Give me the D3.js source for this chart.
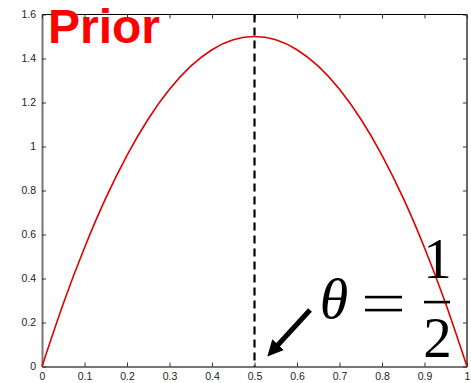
<!DOCTYPE html>
<html>
<head>
<meta charset="utf-8">
<script src="https://cdn.jsdelivr.net/npm/d3@7"></script>
<style>
  body { margin: 0; background: #fff; }
  svg { display: block; }
</style>
</head>
<body>
<svg></svg>
<script>
// prior density
const theta = [0, 0.05, 0.1, 0.15, 0.2, 0.25, 0.3, 0.35, 0.4, 0.45, 0.5,
  0.55, 0.6, 0.65, 0.7, 0.75, 0.8, 0.85, 0.9, 0.95, 1]
const density = [0, 0.285, 0.54, 0.765, 0.96, 1.125, 1.26, 1.365, 1.44, 1.485, 1.5,
  1.485, 1.44, 1.365, 1.26, 1.125, 0.96, 0.765, 0.54, 0.285, 0]
const xTicks = [0, 0.1, 0.2, 0.3, 0.4, 0.5, 0.6, 0.7, 0.8, 0.9, 1]
const yTicks = [0, 0.2, 0.4, 0.6, 0.8, 1, 1.2, 1.4, 1.6]
const marker = 0.5

const W = 471, H = 383
const plotL = 42, plotR = 467, plotT = 14.5, plotB = 366.5

const svg = d3.select("svg")
  .attr("width", W)
  .attr("height", H)

const x = d3.scaleLinear().domain([0, 1]).range([plotL, plotR])
const y = d3.scaleLinear().domain([0, 1.6]).range([plotB, plotT])

// box: top/right black, left/bottom grey
svg.append("line").attr("x1", plotL).attr("x2", plotR).attr("y1", plotT).attr("y2", plotT)
  .attr("stroke", "#000").attr("stroke-width", 1.2)
svg.append("line").attr("x1", plotR).attr("x2", plotR).attr("y1", plotT).attr("y2", plotB)
  .attr("stroke", "#000").attr("stroke-width", 1.2)

const fmt = d => d3.format("~g")(d)

const xAxis = svg.append("g")
  .attr("transform", `translate(0,${plotB})`)
  .call(d3.axisBottom(x).tickValues(xTicks).tickFormat(fmt).tickSizeInner(-4).tickSizeOuter(0).tickPadding(6))
const yAxis = svg.append("g")
  .attr("transform", `translate(${plotL},0)`)
  .call(d3.axisLeft(y).tickValues(yTicks).tickFormat(fmt).tickSizeInner(-4).tickSizeOuter(0).tickPadding(6))

// mirrored ticks on top and right
svg.append("g").attr("transform", `translate(0,${plotT})`)
  .call(d3.axisTop(x).tickValues(xTicks).tickFormat("").tickSizeInner(-4).tickSizeOuter(0))
  .call(g => g.select(".domain").remove())
svg.append("g").attr("transform", `translate(${plotR},0)`)
  .call(d3.axisRight(y).tickValues(yTicks).tickFormat("").tickSizeInner(-4).tickSizeOuter(0))
  .call(g => g.select(".domain").remove())

svg.selectAll(".tick line").attr("stroke", "#333")
for (const g of [xAxis, yAxis]) {
  g.select(".domain").attr("stroke", "#777").attr("stroke-width", 2)
  g.selectAll("text")
    .attr("font-family", "Liberation Sans, Arial, sans-serif")
    .attr("font-size", 10.5)
    .attr("fill", "#222")
}

// dashed marker line
svg.append("line")
  .attr("x1", x(marker)).attr("x2", x(marker))
  .attr("y1", plotT).attr("y2", plotB)
  .attr("stroke", "#000").attr("stroke-width", 2.2)
  .attr("stroke-dasharray", "8,5")

// prior curve
const line = d3.line()
  .x((d, i) => x(theta[i]))
  .y(d => y(d))
  .curve(d3.curveNatural)
svg.append("path")
  .datum(density)
  .attr("d", line)
  .attr("fill", "none")
  .attr("stroke", "#e00000")
  .attr("stroke-width", 1.6)

// title
svg.append("text")
  .attr("x", 48).attr("y", 42.5)
  .attr("font-family", "Liberation Sans, Arial, sans-serif")
  .attr("font-weight", "bold")
  .attr("font-size", 48)
  .attr("fill", "#ff0000")
  .text("Prior")

// annotation θ = 1/2
const math = svg.append("g")
  .attr("font-family", "Liberation Serif, serif")
  .attr("fill", "#000")
math.append("text").attr("x", 334).attr("y", 318).attr("text-anchor", "middle")
  .attr("font-style", "italic").attr("font-size", 58).text("θ")
math.append("rect").attr("x", 365).attr("y", 295.8).attr("width", 37).attr("height", 2.6)
math.append("rect").attr("x", 365).attr("y", 308.8).attr("width", 37).attr("height", 2.6)
math.append("rect").attr("x", 424).attr("y", 300.8).attr("width", 26).attr("height", 2.6)
math.append("text").attr("x", 437.5).attr("y", 278).attr("text-anchor", "middle")
  .attr("font-size", 57).text("1")
math.append("text").attr("x", 437.5).attr("y", 357).attr("text-anchor", "middle")
  .attr("font-size", 57).text("2")

// arrow
svg.append("defs").append("marker")
  .attr("id", "ah").attr("viewBox", "0 0 10 10")
  .attr("refX", 2).attr("refY", 5)
  .attr("markerWidth", 3.2).attr("markerHeight", 3.2)
  .attr("orient", "auto")
  .append("path").attr("d", "M0,0 L10,5 L0,10 Z").attr("fill", "#000")
svg.append("line")
  .attr("x1", 310).attr("y1", 310).attr("x2", 276).attr("y2", 347)
  .attr("stroke", "#000").attr("stroke-width", 5)
  .attr("marker-end", "url(#ah)")
</script>
</body>
</html>
